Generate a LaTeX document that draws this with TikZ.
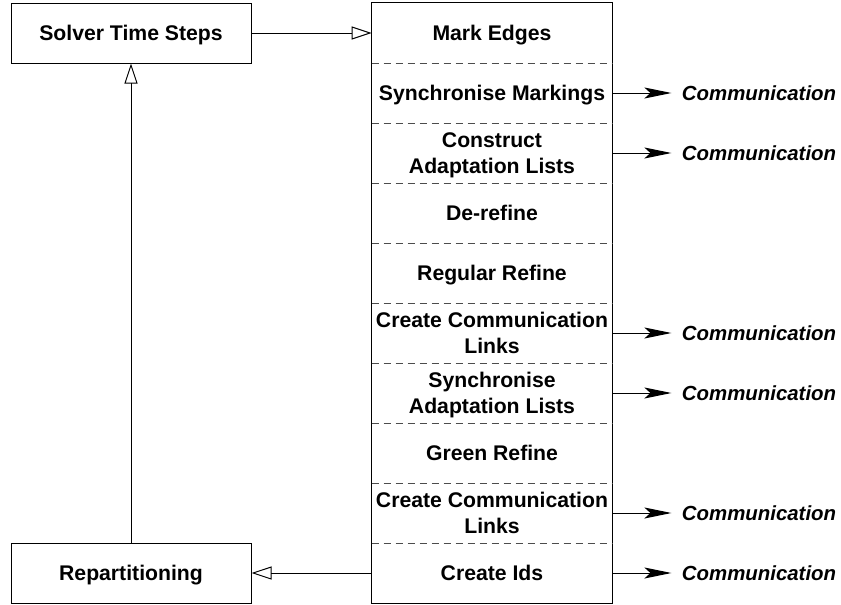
\documentclass[tikz,border=0pt]{standalone}
\usepackage{fontspec}
\setmainfont{Liberation Sans}
\usetikzlibrary{arrows.meta}
\newcommand{\diagfont}{\fontsize{10.6}{13}\selectfont}
\newcommand{\commfont}{\fontsize{10.2}{12}\selectfont}
\tikzset{
  procbox/.style={draw, line width=0.5pt, minimum width=120pt, minimum height=30pt, inner sep=0pt, text depth=-1pt, font=\diagfont\bfseries},
  steprow/.style={minimum width=120pt, minimum height=30pt, inner sep=0pt, text depth=-1pt, align=center, font=\diagfont\bfseries},
  commlabel/.style={anchor=west, font=\commfont\bfseries\itshape},
  openarrow/.style={-{Triangle[open,length=10pt,width=6.5pt]}, line width=0.5pt},
  commarrow/.style={-{Stealth[length=13.5pt,width=5.5pt,inset=3pt]}, line width=0.5pt, shorten >=1.75pt},
  rowsep/.style={dash pattern=on 3.5pt off 2.5pt, line width=0.5pt, black!70}
}
\begin{document}
\begin{tikzpicture}[x=0.5pt,y=-0.5pt]
\useasboundingbox (0,0) rectangle (841,605);
\node[procbox] (solver) at (131,33) {Solver Time Steps};
\node[procbox] (repart) at (131,573) {Repartitioning};
% adaptation steps
\foreach \name/\txt [count=\i] in {mark/Mark Edges, syncmark/Synchronise Markings,
    construct/{Construct\\Adaptation Lists}, derefine/De-refine, regular/Regular Refine,
    links/{Create Communication\\Links}, syncadapt/{Synchronise\\Adaptation Lists},
    green/Green Refine, linkstwo/{Create Communication\\Links}, ids/Create Ids}
  \node[steprow] (\name) at (492,{33+60*(\i-1)}) {\txt};
\draw[line width=0.5pt] (mark.north west) rectangle (ids.south east);
\foreach \name in {mark,syncmark,construct,derefine,regular,links,syncadapt,green,linkstwo}
  \draw[rowsep] (\name.south west) -- (\name.south east);
% communication
\foreach \name in {syncmark,construct,links,syncadapt,linkstwo,ids}{
  \node[commlabel] (c\name) at ([xshift=31.25pt]\name.east) {Communication};
  \draw[commarrow] (\name) -- (c\name);
}
\draw[openarrow] (solver) -- (mark);
\draw[openarrow] (repart) -- (solver);
\draw[openarrow] (ids) -- (repart);
\end{tikzpicture}
\end{document}
